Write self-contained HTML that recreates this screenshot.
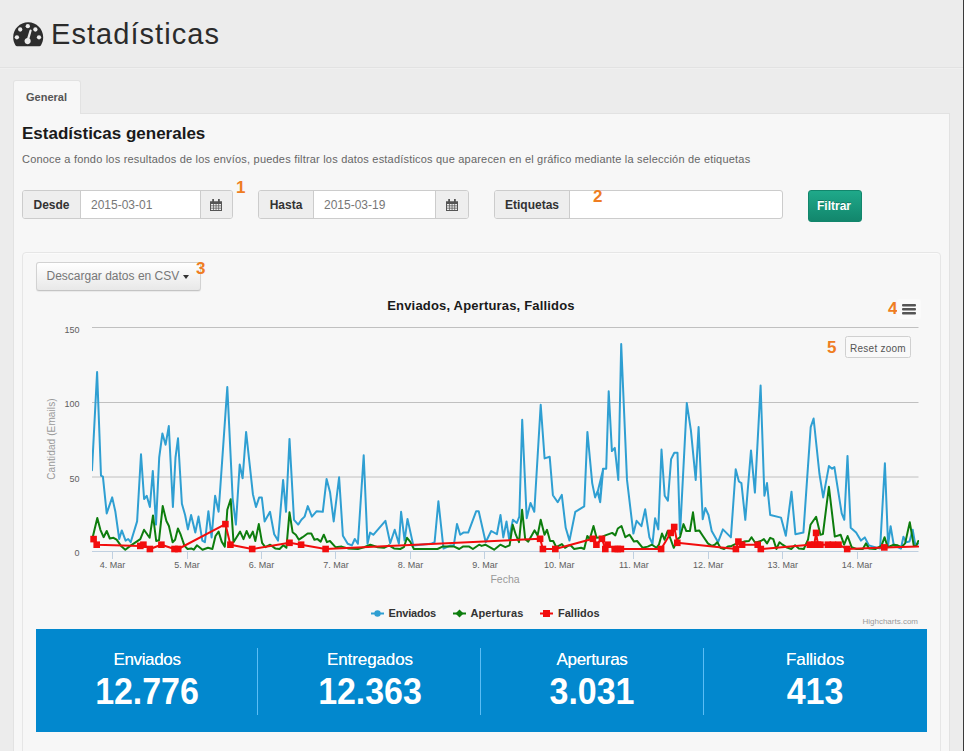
<!DOCTYPE html>
<html lang="es">
<head>
<meta charset="utf-8">
<title>Estadísticas</title>
<style>
*{box-sizing:border-box;margin:0;padding:0}
html,body{width:964px;height:751px;overflow:hidden}
body{background:#ececec;font-family:"Liberation Sans",sans-serif;color:#333;position:relative}
.abs{position:absolute}
.hdr{left:0;top:0;width:964px;height:69px;background:#ececec;border-bottom:1px solid #f0f0f0;box-shadow:inset 0 -1px 0 #e2e2e2}
.title{left:51px;top:16px;font-size:29px;line-height:36px;color:#2b2b2b;white-space:nowrap;letter-spacing:1.05px}
.tab{left:13px;top:80px;width:68px;height:34px;background:#f7f7f7;border:1px solid #e2e2e2;border-bottom:none;border-radius:3px 3px 0 0;font-size:11px;font-weight:bold;color:#555;text-align:center;line-height:32px;padding-right:1px}
.panel{left:13px;top:113px;width:937px;height:660px;background:#f7f7f7;border:1px solid #e2e2e2}
.h2{left:22px;top:123px;font-size:17px;font-weight:bold;line-height:22px;color:#1a1a1a;white-space:nowrap}
.desc{left:22px;top:152px;font-size:11px;line-height:14px;color:#666;white-space:nowrap;letter-spacing:0.2px}
.grp{height:29px;top:190px;border:1px solid #ccc;border-radius:3px;background:#fff;overflow:hidden}
.addon{position:absolute;top:0;height:27px;padding-top:1px;background:#eee;font-size:12px;font-weight:bold;color:#333;text-align:center;line-height:27px}
.inp{position:absolute;top:0;height:27px;padding-top:1px;font-size:12px;color:#777;line-height:27px;padding-left:10px}
.btn-g{left:808px;top:190px;width:54px;height:32px;border-radius:3px;background:linear-gradient(#1fa98a,#12866c);border:1px solid #12866c;color:#fff;font-size:12px;font-weight:bold;text-align:center;line-height:30px;padding-right:2px;text-shadow:0 -1px 0 rgba(0,0,0,.25)}
.well{left:22px;top:252px;width:919px;height:520px;border:1px solid #e6e6e6;border-radius:4px;background:#f7f7f7;box-shadow:inset 0 1px 1px rgba(255,255,255,.6)}
.csv{left:36px;top:262px;width:165px;height:29px;border:1px solid #d2d2d2;border-bottom-color:#c4c4c4;border-radius:3px;background:linear-gradient(#fff,#e8e8e8);box-shadow:0 1px 1px rgba(0,0,0,.06);font-size:12px;color:#777;line-height:27px;padding-left:9.500px;white-space:nowrap;letter-spacing:0}
.caret{position:absolute;left:146px;top:12px;width:0;height:0;border-top:4px solid #333;border-left:3.500px solid transparent;border-right:3.500px solid transparent}
.num{font-size:17px;font-weight:bold;color:#ef7d22;line-height:18px}
.blue{left:36px;top:629px;width:891px;height:103px;background:#0288ce}
.stat{position:absolute;top:0;height:103px;width:222px;text-align:center;color:#fff}
.stat .l{position:absolute;left:0;right:0;top:20.800px;font-size:17px;line-height:20px;letter-spacing:-0.55px;text-shadow:0 0 .6px rgba(255,255,255,.8)}
.stat .v{position:absolute;left:0;right:0;top:43px;font-size:34px;font-weight:bold;line-height:40px;letter-spacing:-0.05px;transform:scaleY(1.065);transform-origin:50% 31px}
.div{position:absolute;top:19px;width:1px;height:67px;background:#5bbdf5}
</style>
</head>
<body>
<div class="abs hdr"></div>
<div class="abs" style="left:963px;top:0;width:1px;height:751px;background:#3a3a3a;z-index:9"></div>
<svg class="abs" style="left:13px;top:21.500px" width="31" height="25" viewBox="0 0 31 25">
 <path d="M15.200 0.300C6.900 0.300 0.200 7 0.200 15.300c0 2.900.8 5.600 2.200 7.900.4.700 1 1.100 1.700 1.100h22.200c.7 0 1.300-.4 1.700-1.100 1.400-2.300 2.200-5 2.200-7.900 0-8.300-6.700-15-15-15z" fill="#2d2d2d"/>
 <circle cx="3.900" cy="15.300" r="2.150" fill="#ececec"/><circle cx="7.200" cy="7.500" r="2.150" fill="#ececec"/><circle cx="14.800" cy="4.200" r="2.150" fill="#ececec"/><circle cx="22.400" cy="7.500" r="2.150" fill="#ececec"/><circle cx="26" cy="15.300" r="2.150" fill="#ececec"/>
 <path d="M18.700 8.600a1.100 1.100 0 0 0-2.100-.5l-2.400 7.900a3.100 3.100 0 1 0 2.300.6z" fill="#ececec"/>
</svg>
<div class="abs title">Estadísticas</div>
<div class="abs panel"></div>
<div class="abs tab">General</div>
<div class="abs h2">Estadísticas generales</div>
<div class="abs desc">Conoce a fondo los resultados de los envíos, puedes filtrar los datos estadísticos que aparecen en el gráfico mediante la selección de etiquetas</div>

<div class="abs grp" style="left:22px;width:211px">
 <div class="addon" style="left:0;width:58px;border-right:1px solid #ccc">Desde</div>
 <div class="inp" style="left:58px;width:119px">2015-03-01</div>
 <div class="addon" style="left:177px;width:32px;border-left:1px solid #ccc"><svg width="12" height="12" viewBox="0 0 12 12" style="position:absolute;left:9px;top:7.500px"><path d="M0 2.200h12v9.800H0z" fill="#555"/><path d="M2.200 0h1.800v3.200H2.200zM8 0h1.800v3.200H8z" fill="#555"/><path d="M1 5h2v1.500H1zM3.700 5h2v1.500h-2zM6.400 5h2v1.500h-2zM9.100 5H11v1.500H9.100zM1 7.200h2v1.500H1zM3.700 7.200h2v1.500h-2zM6.400 7.200h2v1.500h-2zM9.100 7.200H11v1.500H9.100zM1 9.400h2V11H1zM3.700 9.400h2V11h-2zM6.400 9.400h2V11h-2zM9.100 9.400H11V11H9.100z" fill="#eee"/></svg></div>
</div>
<div class="abs grp" style="left:258px;width:211px">
 <div class="addon" style="left:0;width:55px;border-right:1px solid #ccc">Hasta</div>
 <div class="inp" style="left:55px;width:121px">2015-03-19</div>
 <div class="addon" style="left:176px;width:33px;border-left:1px solid #ccc"><svg width="12" height="12" viewBox="0 0 12 12" style="position:absolute;left:10px;top:7.500px"><path d="M0 2.200h12v9.800H0z" fill="#555"/><path d="M2.200 0h1.800v3.200H2.200zM8 0h1.800v3.200H8z" fill="#555"/><path d="M1 5h2v1.500H1zM3.700 5h2v1.500h-2zM6.400 5h2v1.500h-2zM9.100 5H11v1.500H9.100zM1 7.200h2v1.500H1zM3.700 7.200h2v1.500h-2zM6.400 7.200h2v1.500h-2zM9.100 7.200H11v1.500H9.100zM1 9.400h2V11H1zM3.700 9.400h2V11h-2zM6.400 9.400h2V11h-2zM9.100 9.400H11V11H9.100z" fill="#eee"/></svg></div>
</div>
<div class="abs grp" style="left:494px;width:289px">
 <div class="addon" style="left:0;width:75px;border-right:1px solid #ccc">Etiquetas</div>
</div>
<div class="abs btn-g">Filtrar</div>
<div class="abs num" style="left:236px;top:178.500px">1</div>
<div class="abs num" style="left:593px;top:188px">2</div>

<div class="abs well"></div>
<div class="abs csv">Descargar datos en CSV<span class="caret"></span></div>
<div class="abs num" style="left:196px;top:260px">3</div>
<div class="abs num" style="left:888px;top:300px">4</div>
<div class="abs num" style="left:827px;top:338.500px">5</div>

<!--CHART-->
<svg class="abs" style="left:0;top:0" width="964" height="751" viewBox="0 0 964 751" font-family="Liberation Sans, sans-serif">
<defs><clipPath id="cp"><rect x="92" y="326" width="827" height="229"/></clipPath></defs>
<path d="M92 327.5 H918.500" stroke="#c0c0c0" stroke-width="1" fill="none"/>
<path d="M92 402.5 H918.500" stroke="#c0c0c0" stroke-width="1" fill="none"/>
<path d="M92 477 H918.500" stroke="#c0c0c0" stroke-width="1" fill="none"/>
<path d="M92 551.500 H918.500" stroke="#c0d0e0" stroke-width="1" fill="none"/>
<path d="M112.5 552 V559" stroke="#c0d0e0" stroke-width="1" fill="none"/>
<path d="M187.5 552 V559" stroke="#c0d0e0" stroke-width="1" fill="none"/>
<path d="M261.5 552 V559" stroke="#c0d0e0" stroke-width="1" fill="none"/>
<path d="M335.5 552 V559" stroke="#c0d0e0" stroke-width="1" fill="none"/>
<path d="M410.5 552 V559" stroke="#c0d0e0" stroke-width="1" fill="none"/>
<path d="M484.5 552 V559" stroke="#c0d0e0" stroke-width="1" fill="none"/>
<path d="M559.5 552 V559" stroke="#c0d0e0" stroke-width="1" fill="none"/>
<path d="M633.5 552 V559" stroke="#c0d0e0" stroke-width="1" fill="none"/>
<path d="M708.5 552 V559" stroke="#c0d0e0" stroke-width="1" fill="none"/>
<path d="M782.5 552 V559" stroke="#c0d0e0" stroke-width="1" fill="none"/>
<path d="M857.5 552 V559" stroke="#c0d0e0" stroke-width="1" fill="none"/>
<text x="79.500" y="332.5" text-anchor="end" font-size="9" fill="#606060">150</text>
<text x="79.500" y="407.3" text-anchor="end" font-size="9" fill="#606060">100</text>
<text x="79.500" y="482.0" text-anchor="end" font-size="9" fill="#606060">50</text>
<text x="79.500" y="555.8" text-anchor="end" font-size="9" fill="#606060">0</text>
<text x="112.6" y="568" text-anchor="middle" font-size="9" fill="#606060">4. Mar</text>
<text x="187.1" y="568" text-anchor="middle" font-size="9" fill="#606060">5. Mar</text>
<text x="261.5" y="568" text-anchor="middle" font-size="9" fill="#606060">6. Mar</text>
<text x="336.0" y="568" text-anchor="middle" font-size="9" fill="#606060">7. Mar</text>
<text x="410.4" y="568" text-anchor="middle" font-size="9" fill="#606060">8. Mar</text>
<text x="484.9" y="568" text-anchor="middle" font-size="9" fill="#606060">9. Mar</text>
<text x="559.3" y="568" text-anchor="middle" font-size="9" fill="#606060">10. Mar</text>
<text x="633.8" y="568" text-anchor="middle" font-size="9" fill="#606060">11. Mar</text>
<text x="708.2" y="568" text-anchor="middle" font-size="9" fill="#606060">12. Mar</text>
<text x="782.7" y="568" text-anchor="middle" font-size="9" fill="#606060">13. Mar</text>
<text x="857.1" y="568" text-anchor="middle" font-size="9" fill="#606060">14. Mar</text>
<text x="505" y="582.800" text-anchor="middle" font-size="10.500" fill="#999">Fecha</text>
<text transform="translate(55.300,439) rotate(-90)" text-anchor="middle" font-size="10" fill="#9a9a9a" letter-spacing="0.12">Cantidad (Emails)</text>
<text x="481" y="310" text-anchor="middle" font-size="13" font-weight="bold" fill="#1a1a1a" letter-spacing="0.18">Enviados, Aperturas, Fallidos</text>
<g clip-path="url(#cp)" fill="none" stroke-linejoin="round" stroke-linecap="round">
<path d="M92.0 470.3 L97.1 372.1 L101.0 475.7 L102.9 476.7 L106.7 513.4 L112.2 497.4 L115.4 511.8 L119.2 539.0 L121.8 530.4 L125.6 540.6 L128.2 539.0 L130.7 542.2 L137.1 521.4 L141.0 454.3 L144.1 499.0 L146.7 495.8 L149.9 507.0 L152.8 470.9 L156.0 524.6 L159.2 457.5 L162.4 433.5 L165.6 444.7 L168.8 426.1 L172.9 507.0 L175.5 457.5 L178.0 438.3 L181.9 503.8 L185.1 515.0 L187.9 529.4 L191.1 515.0 L195.3 532.6 L198.5 516.6 L202.3 540.6 L204.9 542.2 L208.4 511.2 L211.6 537.4 L215.1 495.8 L218.6 511.8 L227.3 387.1 L232.7 499.0 L235.9 524.6 L239.7 464.5 L242.6 478.3 L246.1 431.9 L252.9 494.2 L256.0 507.0 L259.2 497.4 L261.8 497.4 L264.6 521.4 L270.0 511.8 L274.2 534.2 L278.0 540.6 L283.1 479.9 L286.0 511.8 L289.5 438.9 L294.0 519.8 L298.2 524.6 L301.4 519.8 L304.6 516.6 L307.8 506.1 L311.9 516.6 L316.7 511.2 L322.8 511.8 L326.6 478.9 L330.1 492.6 L333.7 521.4 L339.1 477.3 L342.9 535.8 L347.7 543.8 L351.9 545.4 L354.8 539.0 L357.9 543.8 L363.7 455.2 L367.5 543.8 L370.1 532.6 L373.3 534.8 L385.4 520.8 L390.2 543.2 L394.7 529.7 L398.9 543.8 L401.1 511.8 L404.6 540.6 L407.5 518.9 L413.3 545.4 L430.8 543.8 L434.6 542.2 L438.4 501.3 L443.5 548.6 L450.6 545.4 L453.8 545.4 L457.0 524.0 L460.2 534.8 L463.4 532.6 L468.2 532.6 L476.2 511.2 L478.7 511.2 L485.7 542.2 L491.2 531.0 L496.9 534.2 L500.5 515.0 L503.3 537.4 L506.5 521.4 L509.1 539.0 L512.9 519.8 L516.8 523.0 L519.3 516.6 L522.2 419.8 L526.7 518.2 L530.5 502.9 L534.3 511.8 L540.7 404.7 L544.6 458.4 L549.7 456.8 L552.9 495.2 L557.7 502.2 L561.8 494.9 L565.7 527.8 L569.5 540.6 L575.3 511.8 L584.2 506.4 L587.4 431.9 L592.2 483.1 L595.1 497.4 L597.6 491.0 L600.2 502.2 L603.1 469.6 L597.6 492.0 L599.8 500.6 L603.0 468.7 L606.2 468.7 L608.7 391.3 L611.9 451.1 L614.8 447.9 L618.3 479.9 L621.2 344.0 L627.0 479.9 L630.8 511.8 L633.4 533.6 L636.6 520.8 L641.4 526.2 L645.2 509.3 L649.4 537.4 L652.5 543.8 L655.1 518.2 L658.3 529.4 L661.5 449.5 L664.7 495.8 L667.9 500.6 L671.1 459.1 L674.3 452.7 L677.5 452.7 L680.0 534.2 L686.8 403.1 L690.9 430.3 L695.7 479.9 L698.6 427.1 L702.7 519.2 L705.3 508.0 L708.5 515.0 L711.7 531.0 L718.1 542.2 L722.9 529.4 L730.9 537.4 L735.7 469.3 L738.9 481.5 L741.4 483.1 L745.3 519.8 L751.0 450.4 L754.9 492.6 L760.6 385.5 L764.4 495.8 L767.0 483.1 L770.2 515.0 L770.4 515.0 L781.0 517.6 L785.8 535.8 L791.5 491.7 L795.4 534.2 L803.4 532.6 L810.7 427.1 L813.6 418.5 L819.4 473.5 L823.2 497.4 L828.9 466.1 L832.1 468.7 L834.4 467.1 L837.9 489.4 L841.7 513.4 L844.3 519.8 L847.5 455.9 L850.7 527.8 L856.1 532.6 L860.9 540.6 L864.8 537.4 L868.9 545.4 L880.1 548.6 L884.9 463.2 L888.1 545.4 L890.6 526.2 L893.8 545.4 L900.9 548.6 L903.4 536.8 L906.3 542.2 L909.5 541.6 L912.7 529.7 L915.3 544.8 L918.1 543.5" stroke="#2f9fd2" stroke-width="2"/>
<path d="M93.0 536.0 L97.3 517.9 L100.4 529.8 L103.6 537.2 L106.7 531.0 L109.8 538.5 L113.5 537.8 L116.6 539.7 L121.6 546.6 L125.3 549.7 L130.3 545.9 L140.3 539.1 L144.0 529.8 L149.6 537.8 L153.0 515.4 L156.2 541.0 L159.0 540.3 L162.7 506.1 L166.4 521.0 L168.9 526.0 L172.6 542.2 L175.1 539.7 L177.9 528.5 L180.7 534.7 L184.5 545.9 L187.6 549.0 L191.3 548.4 L193.8 549.7 L196.9 545.3 L202.5 549.7 L208.0 547.8 L212.4 549.0 L215.5 536.0 L218.6 531.6 L221.7 541.6 L224.8 546.6 L227.3 509.8 L230.7 499.3 L233.5 542.2 L236.6 537.2 L240.1 531.6 L243.5 539.1 L246.6 531.0 L249.7 537.8 L252.8 531.6 L255.3 541.0 L258.8 524.1 L262.1 542.8 L265.3 547.2 L270.2 544.7 L275.2 548.4 L279.6 549.0 L283.3 545.3 L286.4 547.8 L289.5 512.3 L292.6 532.2 L295.8 534.7 L298.9 539.7 L302.6 537.2 L307.6 533.5 L311.3 533.5 L314.4 539.7 L317.5 539.1 L320.7 541.6 L323.8 534.7 L326.9 542.2 L328.0 541.6 L329.9 541.0 L335.5 547.2 L341.7 546.6 L347.9 548.4 L357.9 549.0 L364.1 547.2 L370.3 544.7 L377.8 547.2 L384.0 547.8 L389.0 545.3 L394.0 548.4 L400.2 549.0 L403.9 547.2 L407.0 537.8 L410.2 541.6 L413.9 549.0 L422.6 549.0 L437.5 549.0 L442.5 546.6 L448.0 546.6 L454.2 546.6 L459.2 549.0 L462.9 546.6 L469.2 546.6 L472.9 549.0 L479.1 544.7 L481.6 545.9 L485.3 544.7 L494.1 549.7 L500.3 544.7 L505.3 547.2 L509.6 545.3 L512.7 524.8 L515.8 534.7 L519.0 542.2 L522.1 509.8 L525.2 539.1 L528.3 541.6 L534.5 530.4 L537.6 535.4 L540.7 519.8 L544.5 534.7 L547.0 529.8 L550.1 541.0 L553.2 541.0 L556.3 547.2 L561.9 544.1 L565.0 547.8 L568.0 545.9 L570.5 545.3 L574.2 549.0 L581.1 547.8 L584.2 549.0 L587.3 536.0 L589.8 539.1 L593.5 526.0 L596.6 537.8 L601.6 537.2 L605.3 535.4 L612.2 532.9 L615.3 535.4 L617.8 528.5 L621.5 526.0 L625.3 537.2 L629.6 534.7 L634.0 541.6 L637.1 541.0 L642.7 547.8 L647.7 546.6 L652.0 544.7 L656.4 547.8 L658.9 544.7 L662.0 533.5 L664.5 539.7 L667.6 531.0 L673.8 547.8 L677.5 539.1 L680.0 537.2 L683.5 524.1 L686.3 531.0 L688.0 531.0 L689.9 531.0 L693.0 512.3 L695.5 531.0 L699.2 530.4 L702.9 536.0 L707.9 543.4 L711.7 545.9 L714.8 544.7 L717.3 542.2 L720.4 547.8 L724.1 549.0 L727.8 546.6 L731.6 545.9 L735.3 544.1 L744.0 541.6 L749.0 541.0 L751.5 537.2 L755.2 542.8 L760.8 541.0 L763.9 539.1 L767.0 543.4 L770.2 537.8 L773.3 539.1 L776.4 549.0 L779.5 542.2 L782.6 544.7 L786.3 547.2 L791.3 549.0 L795.1 545.3 L798.8 548.4 L803.8 549.0 L808.0 539.7 L810.5 524.8 L816.1 516.7 L820.4 534.7 L822.9 534.1 L828.9 486.8 L834.8 536.6 L840.6 534.7 L844.1 544.7 L847.6 536.0 L851.6 547.2 L856.5 549.0 L862.8 549.0 L865.9 543.4 L869.0 548.4 L875.2 549.0 L881.4 545.9 L884.6 537.2 L887.7 547.2 L893.9 544.7 L897.6 545.3 L901.4 547.2 L905.1 543.4 L909.8 522.3 L913.8 545.9 L916.3 545.9 L918.2 541.0" stroke="#0d7d0d" stroke-width="2"/>
<path d="M93.6 539.1 L96.7 544.7 L140.3 545.9 L143.4 544.7 L149.9 549.0 L161.4 544.7 L174.5 549.0 L178.2 549.0 L225.4 524.1 L230.4 544.7 L252.2 549.0 L289.5 542.8 L301.1 544.7 L325.6 549.0 L540.1 538.8 L542.9 549.0 L555.3 549.0 L592.9 538.8 L596.4 544.7 L601.9 538.8 L605.3 549.0 L607.6 544.7 L614.7 549.0 L617.8 549.0 L620.9 549.0 L661.1 549.0 L670.7 532.9 L674.2 527.0 L677.3 542.8 L735.9 549.0 L738.4 541.6 L742.1 544.7 L757.7 544.7 L760.8 549.0 L809.9 544.7 L814.2 544.7 L816.1 532.9 L818.0 544.7 L820.4 544.7 L827.9 544.7 L832.9 544.7 L838.5 544.7 L847.2 549.0 L884.3 547.4 L918.2 546.6" stroke="#f20d0d" stroke-width="2"/>
</g>
<g fill="#f20d0d">
<rect x="90.3" y="535.8" width="6.600" height="6.600"/>
<rect x="93.4" y="541.4" width="6.600" height="6.600"/>
<rect x="137.0" y="542.6" width="6.600" height="6.600"/>
<rect x="140.1" y="541.4" width="6.600" height="6.600"/>
<rect x="146.6" y="545.7" width="6.600" height="6.600"/>
<rect x="158.1" y="541.4" width="6.600" height="6.600"/>
<rect x="171.2" y="545.7" width="6.600" height="6.600"/>
<rect x="174.9" y="545.7" width="6.600" height="6.600"/>
<rect x="222.1" y="520.8" width="6.600" height="6.600"/>
<rect x="227.1" y="541.4" width="6.600" height="6.600"/>
<rect x="248.9" y="545.7" width="6.600" height="6.600"/>
<rect x="286.2" y="539.5" width="6.600" height="6.600"/>
<rect x="297.8" y="541.4" width="6.600" height="6.600"/>
<rect x="322.3" y="545.7" width="6.600" height="6.600"/>
<rect x="536.8" y="535.5" width="6.600" height="6.600"/>
<rect x="539.6" y="545.7" width="6.600" height="6.600"/>
<rect x="552.0" y="545.7" width="6.600" height="6.600"/>
<rect x="589.6" y="535.5" width="6.600" height="6.600"/>
<rect x="593.1" y="541.4" width="6.600" height="6.600"/>
<rect x="598.6" y="535.5" width="6.600" height="6.600"/>
<rect x="602.0" y="545.7" width="6.600" height="6.600"/>
<rect x="604.3" y="541.4" width="6.600" height="6.600"/>
<rect x="611.4" y="545.7" width="6.600" height="6.600"/>
<rect x="614.5" y="545.7" width="6.600" height="6.600"/>
<rect x="617.6" y="545.7" width="6.600" height="6.600"/>
<rect x="657.8" y="545.7" width="6.600" height="6.600"/>
<rect x="667.4" y="529.6" width="6.600" height="6.600"/>
<rect x="670.9" y="523.7" width="6.600" height="6.600"/>
<rect x="674.0" y="539.5" width="6.600" height="6.600"/>
<rect x="732.6" y="545.7" width="6.600" height="6.600"/>
<rect x="735.1" y="538.3" width="6.600" height="6.600"/>
<rect x="738.8" y="541.4" width="6.600" height="6.600"/>
<rect x="754.4" y="541.4" width="6.600" height="6.600"/>
<rect x="757.5" y="545.7" width="6.600" height="6.600"/>
<rect x="806.6" y="541.4" width="6.600" height="6.600"/>
<rect x="810.9" y="541.4" width="6.600" height="6.600"/>
<rect x="812.8" y="529.6" width="6.600" height="6.600"/>
<rect x="814.7" y="541.4" width="6.600" height="6.600"/>
<rect x="817.1" y="541.4" width="6.600" height="6.600"/>
<rect x="824.6" y="541.4" width="6.600" height="6.600"/>
<rect x="829.6" y="541.4" width="6.600" height="6.600"/>
<rect x="835.2" y="541.4" width="6.600" height="6.600"/>
<rect x="843.9" y="545.7" width="6.600" height="6.600"/>
<rect x="881.0" y="544.1" width="6.600" height="6.600"/>
</g>
<g font-size="11" font-weight="bold" fill="#333">
<path d="M371 613.500 H384" stroke="#2f9fd2" stroke-width="2"/><circle cx="377.500" cy="613.500" r="3.200" fill="#2f9fd2"/><text x="388.600" y="617" letter-spacing="-0.2">Enviados</text>
<path d="M453 613.500 H466" stroke="#0d7d0d" stroke-width="2"/><path d="M459.500 609.500 L463.500 613.500 L459.500 617.500 L455.500 613.500Z" fill="#0d7d0d"/><text x="470.500" y="617" letter-spacing="0.1">Aperturas</text>
<path d="M540 613.500 H553" stroke="#f20d0d" stroke-width="2"/><rect x="543" y="610" width="7" height="7" fill="#f20d0d"/><text x="558" y="617">Fallidos</text>
</g>
<text x="918" y="624" text-anchor="end" font-size="8" fill="#999">Highcharts.com</text>
<rect x="897" y="299" width="24" height="20" rx="2" fill="#fafafa"/><g fill="#555"><rect x="902" y="304" width="14" height="2.400" rx="1"/><rect x="902" y="308" width="14" height="2.400" rx="1"/><rect x="902" y="312" width="14" height="2.400" rx="1"/></g>
<rect x="845.500" y="336.500" width="65" height="21" rx="2" fill="#f9f9f9" stroke="#d0d0d0"/><text x="878" y="352" text-anchor="middle" font-size="10" fill="#555" letter-spacing="0.25">Reset zoom</text>
</svg>
<!--/CHART-->

<div class="abs blue">
 <div class="stat" style="left:0"><div class="l" style="letter-spacing:-0.35px">Enviados</div><div class="v">12.776</div></div>
 <div class="div" style="left:221px"></div>
 <div class="stat" style="left:223px"><div class="l" style="letter-spacing:-0.1px">Entregados</div><div class="v">12.363</div></div>
 <div class="div" style="left:444px"></div>
 <div class="stat" style="left:445px"><div class="l" style="letter-spacing:-0.3px">Aperturas</div><div class="v">3.031</div></div>
 <div class="div" style="left:667px"></div>
 <div class="stat" style="left:668px"><div class="l" style="letter-spacing:-0.05px">Fallidos</div><div class="v">413</div></div>
</div>
</body>
</html>
